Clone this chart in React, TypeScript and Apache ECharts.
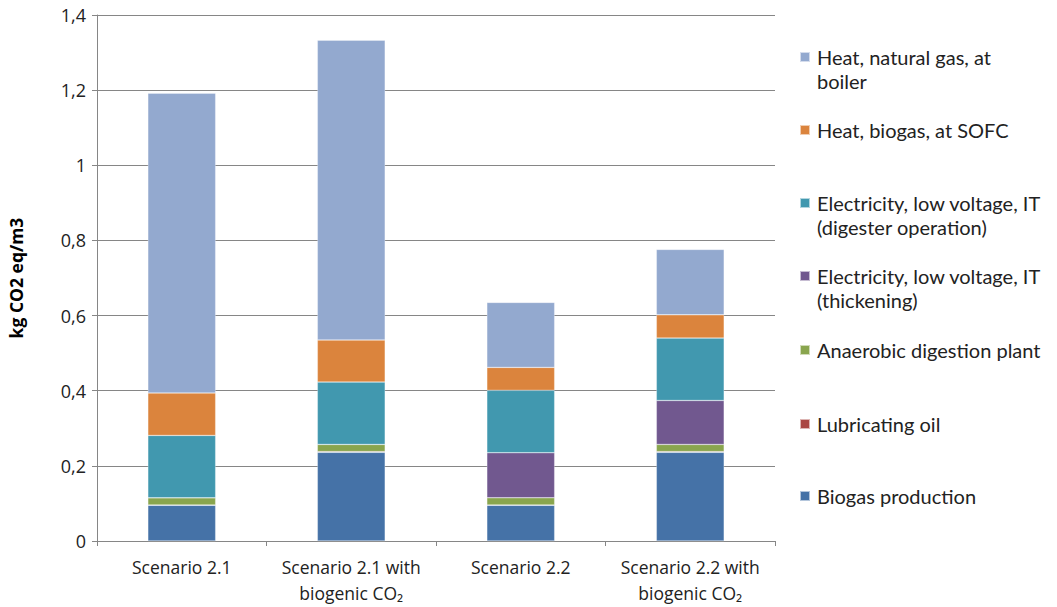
import React, { useEffect, useRef } from "react";
import * as echarts from "echarts";

const categories = [
  "Scenario 2.1",
  "Scenario 2.1 with\nbiogenic CO₂",
  "Scenario 2.2",
  "Scenario 2.2 with\nbiogenic CO₂",
];

const biogasProduction = [0.095, 0.236, 0.095, 0.236];
const lubricatingOil = [0.001, 0.002, 0.001, 0.002];
const anaerobicDigestion = [0.019, 0.019, 0.019, 0.019];
const elecThickening = [0, 0, 0.12, 0.117];
const elecDigester = [0.166, 0.166, 0.166, 0.166];
const heatSOFC = [0.113, 0.112, 0.061, 0.062];
const heatNaturalGas = [0.798, 0.798, 0.173, 0.174];

const yTicks = [0, 0.2, 0.4, 0.6, 0.8, 1, 1.2, 1.4];

const seriesDefs = [
  { name: "Biogas production", data: biogasProduction, color: "#4572A7", label: "Biogas production" },
  { name: "Lubricating oil", data: lubricatingOil, color: "#AA4643", label: "Lubricating oil" },
  { name: "Anaerobic digestion plant", data: anaerobicDigestion, color: "#89A54E", label: "Anaerobic digestion plant" },
  { name: "Electricity, low voltage, IT (thickening)", data: elecThickening, color: "#71588F", label: "Electricity, low voltage, IT\n(thickening)" },
  { name: "Electricity, low voltage, IT (digester operation)", data: elecDigester, color: "#4198AF", label: "Electricity, low voltage, IT\n(digester operation)" },
  { name: "Heat, biogas, at SOFC", data: heatSOFC, color: "#DB843D", label: "Heat, biogas, at SOFC" },
  { name: "Heat, natural gas, at boiler", data: heatNaturalGas, color: "#93A9CF", label: "Heat, natural gas, at\nboiler" },
];

const FONT = "Open Sans";
const LEGEND_FONT = "Lato";

export default function App() {
  const ref = useRef<HTMLDivElement>(null);
  useEffect(() => {
    if (!ref.current) return;
    const chart = echarts.init(ref.current, undefined, { renderer: "svg" });
    const legendOrder = [...seriesDefs].reverse();
    // page-y of the first text line of each legend entry
    const legendCenters = [57, 130, 203, 276, 350, 424, 496];
    const lh = 24;
    const legends = legendOrder.map((s, i) => {
      const multi = s.label.includes("\n");
      const offset = multi ? 1.5 * lh : 0.5 * lh;
      return {
        orient: "vertical" as const,
        left: 799,
        top: legendCenters[i] - offset,
        padding: 0,
        itemWidth: 10,
        itemHeight: 10,
        icon: "rect",
        data: [s.name],
        formatter: () => (multi ? "\n" + s.label : s.label),
        textStyle: {
          fontFamily: LEGEND_FONT,
          fontSize: 20,
          color: "#222",
          lineHeight: lh,
          padding: [0, 0, 0, 2],
        },
      };
    });
    chart.setOption({
      animation: false,
      textStyle: { fontFamily: FONT },
      grid: { left: 97, right: 282, top: 15, bottom: 66, containLabel: false, outerBoundsMode: "none" },
      legend: legends,
      xAxis: {
        type: "category",
        data: categories,
        axisLine: { lineStyle: { color: "#868686", width: 1 } },
        axisTick: { show: true, alignWithLabel: false, length: 5, lineStyle: { color: "#868686" } },
        axisLabel: {
          fontFamily: FONT,
          fontSize: 17.5,
          color: "#222",
          margin: 13,
          lineHeight: 26,
          interval: 0,
        },
      },
      yAxis: {
        type: "value",
        min: 0,
        max: 1.4,
        interval: 0.2,
        name: "kg CO2 eq/m3",
        nameLocation: "middle",
        nameGap: 72,
        nameTextStyle: { fontFamily: FONT, fontSize: 17.5, fontWeight: "bold", color: "#000" },
        axisLine: { show: true, lineStyle: { color: "#868686", width: 1 } },
        axisTick: { show: true, length: 5, lineStyle: { color: "#868686" } },
        splitLine: { lineStyle: { color: "#868686", width: 1 } },
        axisLabel: {
          fontFamily: FONT,
          fontSize: 18,
          color: "#222",
          margin: 11,
          formatter: (v: number) => {
            const t = yTicks.find((x) => Math.abs(x - v) < 1e-9);
            return String(t !== undefined ? t : v).replace(".", ",");
          },
        },
      },
      series: seriesDefs.map((s) => ({
        name: s.name,
        type: "bar",
        stack: "total",
        barWidth: "40%",
        data: s.data,
        itemStyle: { color: s.color, borderColor: "rgba(255,255,255,0.6)", borderWidth: 0.5 },
      })),
    });
    return () => chart.dispose();
  }, []);
  return (
    <div
      ref={ref}
      style={{ position: "absolute", left: 0, top: 0, width: 1057, height: 607 }}
    />
  );
}
